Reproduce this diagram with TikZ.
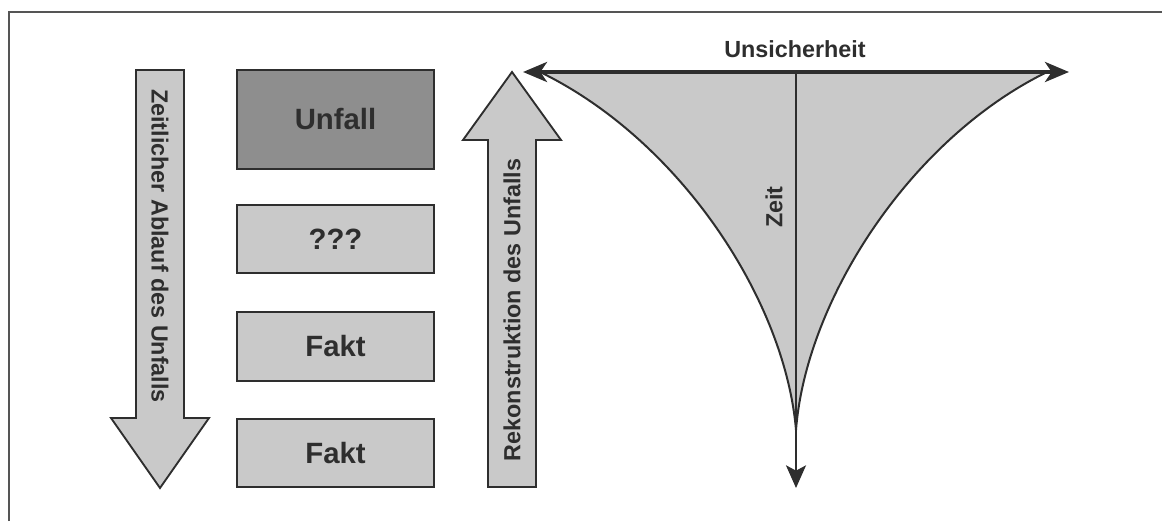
\documentclass[tikz,border=0pt]{standalone}
\usepackage{fontspec}
\setmainfont{Liberation Sans}
\usetikzlibrary{arrows.meta}
\definecolor{lightfill}{HTML}{C9C9C9}
\definecolor{darkfill}{HTML}{8E8E8E}
\definecolor{ink}{HTML}{2E2E2E}
\definecolor{framecol}{HTML}{555555}
\begin{document}
\begin{tikzpicture}[x=0.75pt,y=-0.75pt,
  box/.style={draw=ink, line width=1.8pt, fill=lightfill, minimum width=147.75pt,
    text=ink, font=\fontsize{22}{26}\selectfont\bfseries, inner sep=0pt},
  blockarrow/.style={draw=ink, line width=1.4pt, fill=lightfill, line join=miter},
  lbl/.style={text=ink, font=\fontsize{17.5}{20}\selectfont\bfseries, inner sep=0pt},
  curveline/.style={draw=ink, line width=1.5pt},
  bigtip/.tip={Stealth[length=18pt,width=15pt,inset=5pt]},
  downtip/.tip={Stealth[length=17pt,width=15pt,inset=4pt]}]
\useasboundingbox (0,0) rectangle (1162,521);
% frame
\draw[framecol, line width=1.1pt] (9,521) -- (9,12) -- (1162,12);

% down block arrow
\draw[blockarrow] (136,70) -- (184,70) -- (184,418) -- (209,418) -- (160,488)
  -- (111,418) -- (136,418) -- cycle;
\node[lbl, rotate=-90] (ablauf) at (160,246) {Zeitlicher Ablauf des Unfalls};

% boxes
\node[box, fill=darkfill, minimum height=74.25pt] (unfall) at (335.5,119.5) {Unfall};
\node[box, minimum height=51pt] (qqq) at (335.5,239) {???};
\node[box, minimum height=51.75pt] (fakta) at (335.5,346.5) {Fakt};
\node[box, minimum height=51pt] (faktb) at (335.5,453) {Fakt};

% up block arrow
\draw[blockarrow] (488,487) -- (536,487) -- (536,140) -- (561,140) -- (512,72)
  -- (463,140) -- (488,140) -- cycle;
\node[lbl, rotate=90] (rekon) at (512,310) {Rekonstruktion des Unfalls};

% funnel
\coordinate (tl) at (540,72);
\coordinate (tr) at (1045,73);
\coordinate (bot) at (796,430);
\fill[lightfill] (tl) -- (tr) .. controls (910,140) and (806,300) .. (bot)
  .. controls (785,300) and (680,140) .. (tl) -- cycle;
\draw[curveline] (tl) .. controls (680,140) and (785,300) .. (bot);
\draw[curveline] (tr) .. controls (910,140) and (806,300) .. (bot);

\coordinate (la) at (523,72);
\coordinate (ra) at (1069,72);
\coordinate (vtop) at (796,72);
\coordinate (vtip) at (796,488);
\draw[ink, line width=1.6pt, -{downtip}] (vtop) -- (vtip);
\draw[ink, line width=3pt, {bigtip}-{bigtip}] (la) -- (ra);

\node[lbl] (unsicher) at (795,49) {Unsicherheit};
\node[lbl, rotate=90] (zeit) at (774,207) {Zeit};
\end{tikzpicture}
\end{document}
